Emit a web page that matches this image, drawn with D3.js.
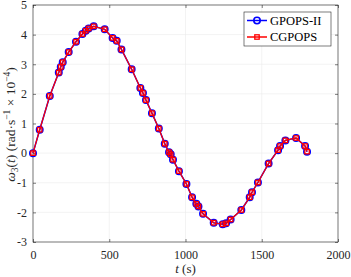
<!DOCTYPE html>
<html>
<head>
<meta charset="utf-8">
<script src="https://cdn.jsdelivr.net/npm/d3@7"></script>
<style>
  body { margin: 0; background: #fff; }
  text { font-family: "Liberation Serif", "DejaVu Serif", serif; }
</style>
</head>
<body>
<div id="chart"></div>
<script>
// data
const tVals = [0, 44, 110, 169, 182, 195, 234, 282, 324, 346, 365, 398, 470, 522, 549, 580, 647, 704, 721, 741, 780, 825, 864, 892, 903, 918, 957, 1006, 1043, 1071, 1085, 1115, 1185, 1244, 1266, 1296, 1366, 1421, 1436, 1475, 1545, 1607, 1620, 1655, 1725, 1784, 1797]
const gpopsVals = [0, 0.79, 1.93, 2.72, 2.91, 3.07, 3.41, 3.76, 4.02, 4.13, 4.21, 4.28, 4.18, 3.89, 3.79, 3.5, 2.83, 2.2, 2.03, 1.79, 1.35, 0.83, 0.32, 0.03, -0.04, -0.22, -0.61, -1.04, -1.49, -1.71, -1.80, -2.05, -2.35, -2.40, -2.37, -2.24, -1.92, -1.49, -1.32, -0.99, -0.35, 0.1, 0.24, 0.43, 0.51, 0.24, 0.05]
const cgpopsVals = [0, 0.79, 1.93, 2.72, 2.91, 3.07, 3.41, 3.76, 4.02, 4.13, 4.21, 4.28, 4.18, 3.89, 3.79, 3.5, 2.83, 2.2, 2.03, 1.79, 1.35, 0.83, 0.32, 0.03, -0.04, -0.22, -0.61, -1.04, -1.49, -1.71, -1.80, -2.05, -2.35, -2.40, -2.37, -2.24, -1.92, -1.49, -1.32, -0.99, -0.35, 0.1, 0.24, 0.43, 0.51, 0.24, 0.05]
const xTicks = [0, 500, 1000, 1500, 2000]
const yTicks = [-3, -2, -1, 0, 1, 2, 3, 4, 5]
const seriesNames = ["GPOPS-II", "CGPOPS"]

const W = 351, H = 277
const margin = { top: 5, right: 13, bottom: 35, left: 33 },
  width = W - margin.left - margin.right,
  height = H - margin.top - margin.bottom

const svg = d3.select("#chart")
  .append("svg")
  .attr("width", W)
  .attr("height", H)

const g = svg.append("g")
  .attr("transform", `translate(${margin.left},${margin.top})`)

const x = d3.scaleLinear().domain([0, 2000]).range([0, width])
const y = d3.scaleLinear().domain([-3, 5]).range([height, 0])

// grid
g.append("g").selectAll("line").data(xTicks).join("line")
  .attr("x1", d => x(d)).attr("x2", d => x(d))
  .attr("y1", 0).attr("y2", height)
  .attr("stroke", "#ebebeb").attr("stroke-width", 0.6)
g.append("g").selectAll("line").data(yTicks).join("line")
  .attr("y1", d => y(d)).attr("y2", d => y(d))
  .attr("x1", 0).attr("x2", width)
  .attr("stroke", "#ebebeb").attr("stroke-width", 0.6)

// axes with inward ticks (box on)
const axisStyle = sel => {
  sel.select(".domain").remove()
  sel.selectAll("line").attr("stroke", "#262626").attr("stroke-width", 0.6)
  sel.selectAll("text").attr("fill", "#262626").style("font-size", "12px")
}
g.append("g").attr("transform", `translate(0,${height})`)
  .call(d3.axisBottom(x).tickValues(xTicks).tickSize(-3).tickPadding(8).tickFormat(d3.format("d")))
  .call(axisStyle)
g.append("g")
  .call(d3.axisLeft(y).tickValues(yTicks).tickSize(-3).tickPadding(6).tickFormat(d => d < 0 ? "-" + Math.abs(d) : d))
  .call(axisStyle)
g.append("g")
  .call(d3.axisTop(x).tickValues(xTicks).tickSize(-3).tickFormat(""))
  .call(axisStyle)
g.append("g").attr("transform", `translate(${width},0)`)
  .call(d3.axisRight(y).tickValues(yTicks).tickSize(-3).tickFormat(""))
  .call(axisStyle)
g.append("rect")
  .attr("width", width).attr("height", height)
  .attr("fill", "none").attr("stroke", "#262626").attr("stroke-width", 0.6)

const line = d3.line()
  .x(d => x(d[0]))
  .y(d => y(d[1]))

const gpops = tVals.map((t, i) => [t, gpopsVals[i]])
const cgpops = tVals.map((t, i) => [t, cgpopsVals[i]])

// GPOPS-II line + circles
g.append("path").datum(gpops)
  .attr("fill", "none").attr("stroke", "#0000ff").attr("stroke-width", 1.5)
  .attr("d", line)
g.append("g").selectAll("circle").data(gpops).join("circle")
  .attr("cx", d => x(d[0])).attr("cy", d => y(d[1])).attr("r", 3.2)
  .attr("fill", "none").attr("stroke", "#0000ff").attr("stroke-width", 1.6)

// CGPOPS line + squares
g.append("path").datum(cgpops)
  .attr("fill", "none").attr("stroke", "#ff0000").attr("stroke-width", 1.2)
  .attr("d", line)
g.append("g").selectAll("rect").data(cgpops).join("rect")
  .attr("x", d => x(d[0]) - 2.2).attr("y", d => y(d[1]) - 2.2)
  .attr("width", 4.4).attr("height", 4.4)
  .attr("fill", "none").attr("stroke", "#ff0000").attr("stroke-width", 1.3)

// legend
const lg = svg.append("g").attr("transform", "translate(244,12)")
lg.append("rect").attr("width", 87).attr("height", 34)
  .attr("fill", "#fff").attr("stroke", "#262626").attr("stroke-width", 0.6)
const colors = ["#0000ff", "#ff0000"]
seriesNames.forEach((name, i) => {
  const yy = 8.5 + i * 16.5
  lg.append("line").attr("x1", 3).attr("x2", 23).attr("y1", yy).attr("y2", yy)
    .attr("stroke", colors[i]).attr("stroke-width", 1.5)
  if (i === 0) {
    lg.append("circle").attr("cx", 13).attr("cy", yy).attr("r", 3.2)
      .attr("fill", "none").attr("stroke", colors[i]).attr("stroke-width", 1.6)
  } else {
    lg.append("rect").attr("x", 10.8).attr("y", yy - 2.2).attr("width", 4.4).attr("height", 4.4)
      .attr("fill", "none").attr("stroke", colors[i]).attr("stroke-width", 1.3)
  }
  lg.append("text").attr("x", 26).attr("y", yy + 4)
    .style("font-size", "12.5px").attr("fill", "#000").text(name)
})

// axis labels
svg.append("text")
  .attr("x", margin.left + width / 2).attr("y", 273)
  .attr("text-anchor", "middle").style("font-size", "13px").attr("fill", "#262626")
  .html('<tspan font-style="italic">t</tspan> (s)')

svg.append("text")
  .attr("transform", `translate(15,${margin.top + height / 2 + 1}) rotate(-90)`)
  .attr("text-anchor", "middle").style("font-size", "13.5px").attr("fill", "#262626")
  .html('<tspan font-style="italic">ω</tspan><tspan font-size="9.5px" dy="3">3</tspan><tspan dy="-3">(</tspan><tspan font-style="italic">t</tspan>) (rad·s<tspan font-size="9.5px" dy="-5">−1</tspan><tspan dy="5"> × 10</tspan><tspan font-size="9.5px" dy="-5">−4</tspan><tspan dy="5">)</tspan>')
</script>
</body>
</html>
